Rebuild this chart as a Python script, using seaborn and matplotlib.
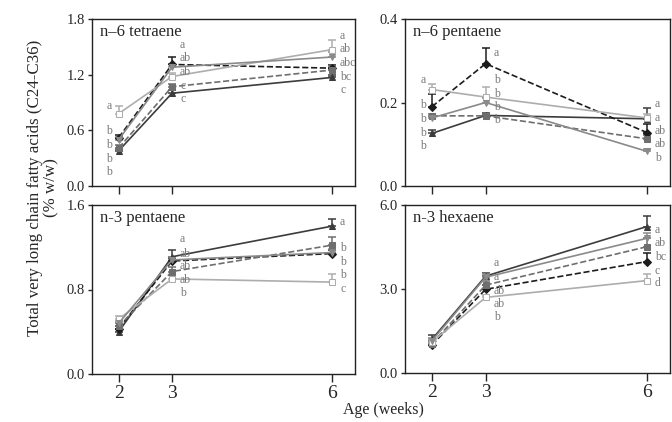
import numpy as np
import pandas as pd
import matplotlib
matplotlib.use("Agg")
import matplotlib.pyplot as plt
import seaborn as sns

sns.set_style("ticks")
plt.rcParams['font.family'] = ['Liberation Serif', 'DejaVu Serif']

weeks = [2, 3, 6]
series = ["A", "B", "C", "D", "E"]

# n-6 tetraene
tet6_vals = {"A": [0.38, 1.00, 1.17], "B": [0.52, 1.31, 1.27], "C": [0.41, 1.07, 1.25],
             "D": [0.78, 1.18, 1.47], "E": [0.50, 1.28, 1.39]}
tet6_err = {"A": [0.02, 0.03, 0.03], "B": [0.03, 0.08, 0.03], "C": [0.03, 0.03, 0.04],
            "D": [0.08, 0.04, 0.10], "E": [0.03, 0.04, 0.05]}
# n-6 pentaene
pen6_vals = {"A": [0.126, 0.169, 0.161], "B": [0.190, 0.293, 0.128], "C": [0.168, 0.168, 0.113],
             "D": [0.231, 0.213, 0.163], "E": [0.163, 0.200, 0.083]}
pen6_err = {"A": [0.008, 0.006, 0.027], "B": [0.030, 0.038, 0.020], "C": [0.005, 0.005, 0.010],
            "D": [0.014, 0.023, 0.010], "E": [0.005, 0.010, 0.005]}
# n-3 pentaene
pen3_vals = {"A": [0.40, 1.11, 1.40], "B": [0.43, 1.07, 1.14], "C": [0.45, 0.97, 1.22],
             "D": [0.52, 0.90, 0.87], "E": [0.48, 1.08, 1.15]}
pen3_err = {"A": [0.03, 0.06, 0.07], "B": [0.02, 0.03, 0.03], "C": [0.03, 0.04, 0.08],
            "D": [0.03, 0.04, 0.08], "E": [0.02, 0.03, 0.03]}
# n-3 hexaene
hex3_vals = {"A": [1.20, 3.46, 5.23], "B": [1.00, 2.99, 3.98], "C": [1.05, 3.14, 4.51],
             "D": [1.10, 2.70, 3.30], "E": [1.15, 3.42, 4.81]}
hex3_err = {"A": [0.15, 0.12, 0.37], "B": [0.10, 0.15, 0.30], "C": [0.10, 0.15, 0.30],
            "D": [0.10, 0.10, 0.24], "E": [0.10, 0.10, 0.20]}

titles = ["n\u20136 tetraene", "n\u20136 pentaene", "n-3 pentaene", "n-3 hexaene"]
yticks = [[0.0, 0.6, 1.2, 1.8], [0.0, 0.2, 0.4], [0.0, 0.8, 1.6], [0.0, 3.0, 6.0]]

# significance letters: (week, list of letters, list of y positions)
tet6_letters = [(2, ["a", "b", "b", "b", "b"], [0.86, 0.59, 0.44, 0.29, 0.15]),
                (3, ["a", "ab", "ab", "c", "c"], [1.52, 1.38, 1.23, 1.08, 0.94]),
                (6, ["a", "ab", "abc", "bc", "c"], [1.62, 1.48, 1.33, 1.17, 1.03])]
pen6_letters = [(2, ["a", "b", "b", "b", "b"], [0.255, 0.193, 0.161, 0.128, 0.095]),
                (3, ["a", "b", "b", "b", "b"], [0.318, 0.253, 0.221, 0.189, 0.159]),
                (6, ["a", "a", "ab", "ab", "b"], [0.197, 0.163, 0.132, 0.100, 0.068])]
pen3_letters = [(3, ["a", "ab", "ab", "ab", "b"], [1.28, 1.14, 1.02, 0.89, 0.77]),
                (6, ["a", "b", "b", "b", "c"], [1.44, 1.19, 1.06, 0.94, 0.80])]
hex3_letters = [(3, ["a", "a", "ab", "ab", "b"], [3.93, 3.43, 2.93, 2.46, 2.00]),
                (6, ["a", "ab", "bc", "c", "d"], [5.11, 4.64, 4.14, 3.64, 3.21])]

styles = {
    "A": dict(color="#3c3c3c", linestyle="-", marker="^", mfc="#3c3c3c", ms=5),
    "B": dict(color="#1c1c1c", linestyle="--", marker="D", mfc="#1c1c1c", ms=4),
    "C": dict(color="#6e6e6e", linestyle="--", marker="s", mfc="#6e6e6e", ms=4),
    "D": dict(color="#adadad", linestyle="-", marker="s", mfc="white", ms=4),
    "E": dict(color="#8a8a8a", linestyle="-", marker="v", mfc="#8a8a8a", ms=4),
}

panels = [(tet6_vals, tet6_err, tet6_letters), (pen6_vals, pen6_err, pen6_letters),
          (pen3_vals, pen3_err, pen3_letters), (hex3_vals, hex3_err, hex3_letters)]

W, H = 672, 422
fig = plt.figure(figsize=(W / 100, H / 100), dpi=100)
rects = [(92, 19, 355, 186), (405, 19, 670, 186), (92, 205, 355, 374), (405, 205, 670, 373)]

for i, ((vals, errs, letters), (l, t, r, b)) in enumerate(zip(panels, rects)):
    ax = fig.add_axes([l / W, 1 - b / H, (r - l) / W, (b - t) / H])
    df = pd.DataFrame([(s, w, v) for s in series for w, v in zip(weeks, vals[s])],
                      columns=["group", "week", "value"])
    for s in series:
        st = styles[s]
        sub = df[df.group == s]
        sns.lineplot(data=sub, x="week", y="value", ax=ax, color=st["color"],
                     linestyle=st["linestyle"], marker=st["marker"], markersize=st["ms"],
                     markerfacecolor=st["mfc"], markeredgecolor=st["color"],
                     linewidth=1.2, legend=False, zorder=3)
        ax.errorbar(weeks, vals[s], yerr=[np.zeros(3), errs[s]], fmt="none",
                    ecolor=st["color"], elinewidth=1.1, capsize=3, capthick=1.1, zorder=2)
    for (wk, labs, ys) in letters:
        if wk == 2:
            xx, ha = wk - 0.12, "right"
        else:
            xx, ha = wk + 0.15, "left"
        for lab, yy in zip(labs, ys):
            ax.text(xx, yy, lab, ha=ha, va="center", fontsize=8.5, color="#7a7a7a")
    yt = yticks[i]
    ax.set_ylim(yt[0], yt[-1])
    ax.set_yticks(yt)
    ax.set_yticklabels([f"{v:.1f}" for v in yt], fontsize=10.5)
    ax.set_xlim(1.5, 6.43)
    ax.set_xticks(weeks)
    if i >= 2:
        ax.set_xticklabels([str(w) for w in weeks], fontsize=14)
    else:
        ax.set_xticklabels([])
    ax.tick_params(axis="x", direction="out", length=6, width=1, pad=2)
    ax.tick_params(axis="y", direction="out", length=3, width=1, pad=2)
    ax.set_xlabel("")
    ax.set_ylabel("")
    for sp in ax.spines.values():
        sp.set_visible(True)
        sp.set_linewidth(1.0)
        sp.set_color("#222222")
    ax.text(0.03, 0.97, titles[i], transform=ax.transAxes, ha="left", va="top", fontsize=12)

fig.text(43 / W, 1 - 188 / H, "Total very long chain fatty acids (C24-C36)\n(% w/w)",
         rotation=90, ha="center", va="center", fontsize=12.2, linespacing=1.0)
fig.text(383 / W, 1 - 410 / H, "Age (weeks)", ha="center", va="center", fontsize=11.5)

fig.savefig("out.png", dpi=100)
